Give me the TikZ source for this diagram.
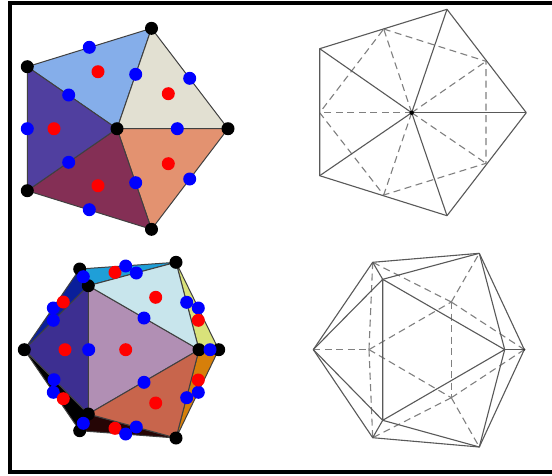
\documentclass[tikz,border=0pt]{standalone}
\tikzset{
  dotbase/.style={circle,inner sep=0pt,minimum size=13pt,draw=none},
  vtx/.style={dotbase,fill=black},
  bdot/.style={dotbase,fill=blue},
  rdot/.style={dotbase,fill=red},
  face/.style={draw=black!75,line width=1pt,line join=round},
  wire/.style={draw=black!65,line width=1.1pt},
  hid/.style={draw=black!50,line width=1.1pt,dash pattern=on 7pt off 4.5pt},
}
\definecolor{fa}{HTML}{85AEEA}\definecolor{fb}{HTML}{E2E0D2}\definecolor{fc}{HTML}{E39270}
\definecolor{fd}{HTML}{842F55}\definecolor{fe}{HTML}{503F9F}
\definecolor{ga}{HTML}{B18FB4}\definecolor{gb}{HTML}{C8E5EC}\definecolor{gc}{HTML}{C8654C}
\definecolor{gd}{HTML}{3D2F91}\definecolor{ge}{HTML}{1F9FD8}\definecolor{gf}{HTML}{0A1F9A}
\definecolor{gg}{HTML}{000000}\definecolor{gh}{HTML}{250505}\definecolor{gi}{HTML}{D9E27A}\definecolor{gj}{HTML}{D67F0A}
\begin{document}
\begin{tikzpicture}[x=1pt,y=-1pt]
\useasboundingbox (0,0) rectangle (552,475);
\fill[white] (0,0) rectangle (552,475);
\draw[black,line width=4pt] (10,3) -- (552,3);
\draw[black,line width=4pt] (10,1) -- (10,472) -- (552,472);
% top left pentagon
\coordinate (pc) at (117,128.7);\coordinate (pt) at (151.5,28.3);\coordinate (pul) at (27.3,66.7);
\coordinate (pll) at (27.3,190.7);\coordinate (pb) at (151.5,229.3);\coordinate (pr) at (228,128.7);
\path[face,fill=fa] (pc)--(pul)--(pt)--cycle;
\path[face,fill=fb] (pc)--(pt)--(pr)--cycle;
\path[face,fill=fc] (pc)--(pr)--(pb)--cycle;
\path[face,fill=fd] (pc)--(pb)--(pll)--cycle;
\path[face,fill=fe] (pc)--(pll)--(pul)--cycle;
\foreach \n in {pc,pt,pul,pll,pb,pr} \node[vtx] at (\n) {};
\foreach \p in {(89.3,47.3),(135.7,74.3),(189.7,78.3),(68.7,95),(27.3,128.7),(177.3,128.7),(68.7,162.3),(135.7,182.7),(189.7,179),(89.3,209.7)} \node[bdot] at \p {};
\foreach \p in {(98,71.7),(168.3,93.7),(54,128.7),(168.3,163.7),(98,185.7)} \node[rdot] at \p {};
% bottom left icosahedron
\coordinate (L) at (24.3,349.7);\coordinate (UL) at (79.7,269);\coordinate (UR) at (176,262.3);
\coordinate (R) at (218.7,349.7);\coordinate (C) at (199,349.7);\coordinate (A) at (88.3,285.7);
\coordinate (B) at (88.3,414);\coordinate (LL) at (79.7,430.7);\coordinate (LR) at (176,438);
\path[face,fill=ge] (UL)--(UR)--(A)--cycle;
\path[face,fill=gf] (L)--(UL)--(A)--cycle;
\path[face,fill=gg] (L)--(LL)--(B)--cycle;
\path[face,fill=gh] (LL)--(LR)--(B)--cycle;
\path[face,fill=gi] (UR)--(R)--(C)--cycle;
\path[face,fill=gj] (C)--(R)--(LR)--cycle;
\path[face,fill=ga] (A)--(C)--(B)--cycle;
\path[face,fill=gb] (A)--(UR)--(C)--cycle;
\path[face,fill=gc] (B)--(C)--(LR)--cycle;
\path[face,fill=gd] (L)--(A)--(B)--cycle;
\foreach \n in {L,UL,UR,R,C,A,B,LL,LR} \node[vtx] at (\n) {};
\foreach \p in {(115,272.3),(155.7,297.3),(65,349.7),(125.7,349.7),(155.7,403),(115,428.3)} \node[rdot] at \p {};
\foreach \p in {(125.7,266),(136.3,273),(83.3,276.7),(186.7,302.3),(198.3,308),(53.3,308),(53.3,320.3),(144,318),(88.7,349.7),(210,349.7),(144,382.3),(54,379.7),(53.3,392.3),(186.7,397.7),(198.3,392.3),(83.3,423.3),(136.3,427),(125.7,434)} \node[bdot] at \p {};
\foreach \p in {(63.3,302),(198.3,320.3),(198.3,380),(63.3,398.7)} \node[rdot] at \p {};
% top right wire pentagon
\coordinate (qc) at (411.7,112.7);\coordinate (qt) at (447,9.3);\coordinate (qul) at (319.7,48.7);
\coordinate (qll) at (319.7,175.7);\coordinate (qb) at (447,215.7);\coordinate (qr) at (526.3,112.7);
\coordinate (m1) at (383.7,29);\coordinate (m2) at (486,61.3);\coordinate (m3) at (319.7,112.7);
\coordinate (m4) at (486,163.3);\coordinate (m5) at (383.7,195);
\foreach \n in {m1,m2,m3,m4,m5} \draw[hid] (qc)--(\n);
\draw[hid] (m1)--(m2)--(m4)--(m5)--(m3)--cycle;
\draw[wire,line join=round] (qul)--(qt)--(qr)--(qb)--(qll)--cycle;
\foreach \n in {qt,qul,qll,qb,qr} \draw[wire] (qc)--(\n);
\fill[black] (qc) circle (2.2pt);
% bottom right wire icosahedron
\coordinate (xL) at (313.3,349.6);\coordinate (xUL) at (372.7,262.3);\coordinate (xUR) at (479.3,253.3);
\coordinate (xR) at (524.3,349.6);\coordinate (xLR) at (479.3,447);\coordinate (xLL) at (372.7,437.7);
\coordinate (xA) at (382.7,279.3);\coordinate (xB) at (382.7,420.3);\coordinate (xC) at (504.7,349.6);
\coordinate (xD) at (369,349.6);\coordinate (xE) at (451.3,302);\coordinate (xF) at (451.3,397.7);
\foreach \a/\b in {xL/xD,xD/xUL,xD/xLL,xD/xE,xD/xF,xE/xF,xE/xUL,xE/xUR,xE/xR,xF/xLL,xF/xLR,xF/xR} \draw[hid] (\a)--(\b);
\draw[wire,line join=round] (xL)--(xUL)--(xUR)--(xR)--(xLR)--(xLL)--cycle;
\draw[wire,line join=round] (xA)--(xB)--(xC)--cycle;
\foreach \a/\b in {xL/xA,xL/xB,xUL/xA,xUR/xA,xUR/xC,xLR/xC,xLR/xB,xLL/xB,xC/xR} \draw[wire] (\a)--(\b);
\fill[black!80] (xR) circle (1.2pt);
\end{tikzpicture}
\end{document}
